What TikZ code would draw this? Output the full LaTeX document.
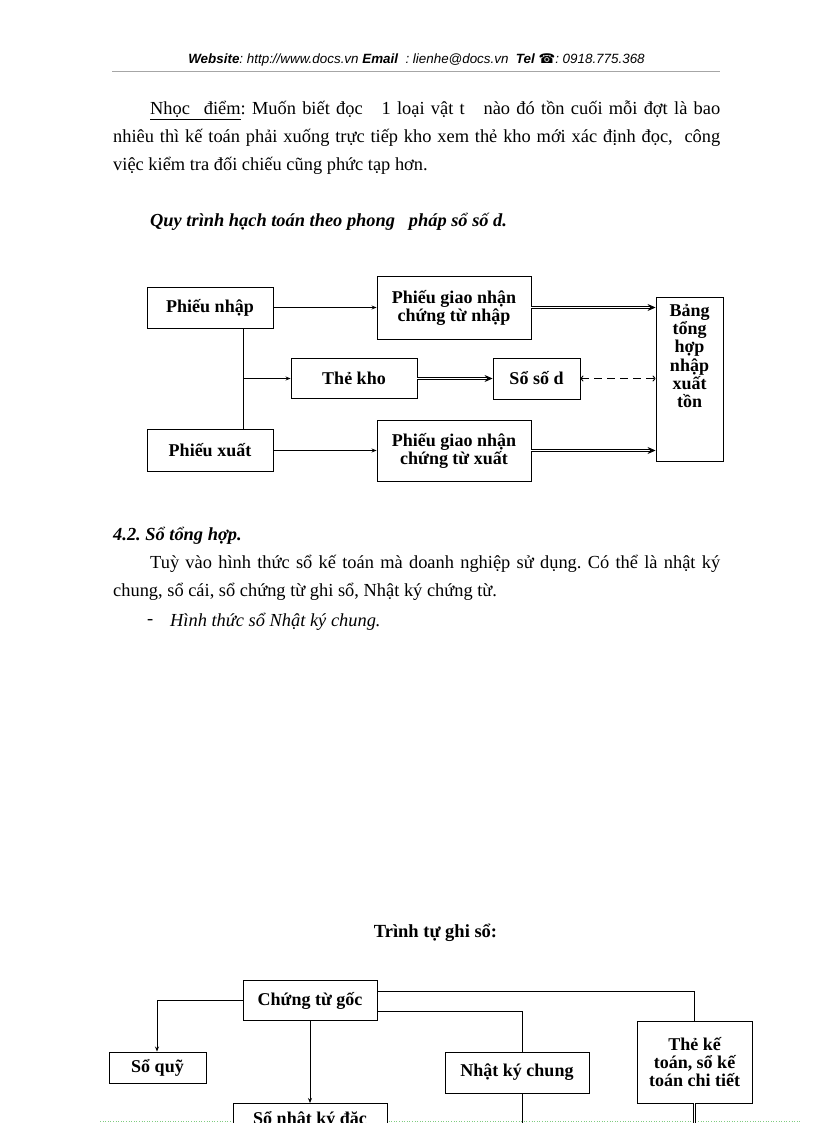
\documentclass[tikz,border=0pt]{standalone}
\usepackage{fontspec}
\setmainfont{Liberation Serif}
\setsansfont{Liberation Sans}
\newfontfamily\symfont{DejaVu Sans}
\usetikzlibrary{arrows.meta}
\begin{document}
\frenchspacing
\begin{tikzpicture}[x=1pt,y=-1pt,
  box/.style={draw, line width=0.9pt, fill=white, inner sep=0pt, align=center,
    font=\fontsize{18}{18}\selectfont\bfseries},
  btxt/.style={inner sep=0pt, align=center, font=\fontsize{18}{18}\selectfont\bfseries},
  body/.style={inner sep=0pt, anchor=base west, font=\fontsize{18.4}{28}\selectfont},
  conn/.style={line width=0.9pt},
  arr/.style={line width=0.9pt, -{Stealth[length=5pt,width=4pt]}},
  dbl/.style={double, double distance=1.2pt, line width=0.8pt, -{Stealth[length=8pt,width=7pt]}},
  dbln/.style={double, double distance=1.2pt, line width=0.8pt},
  dsh/.style={line width=0.9pt, dash pattern=on 8pt off 5pt, {To[length=3pt,width=6pt]}-{To[length=3pt,width=6pt]}}
]
\useasboundingbox (0,0) rectangle (816,1123);
\fill[white] (0,0) rectangle (816,1123);

% page-break marker
\draw[green!60!black!50, dotted, line width=0.6pt] (100,1121) -- (800,1121);

% header
\node[inner sep=0pt, anchor=base] (hdr) at (416.5,64) {\fontsize{13.4}{15}\selectfont\sffamily\itshape
  \textbf{Website}: http://www.docs.vn \textbf{Email}\ \ : lienhe@docs.vn\ \ \textbf{Tel} {\symfont\upshape ☎}: 0918.775.368};
\draw[gray!70, line width=0.8pt] (112,71.5) -- (720,71.5);

% paragraph 1
\node[body] (p1a) at (150,115) {\makebox[570pt][s]{\underline{Nhọc\ \ \ điểm}: Muốn biết đọc\ \ \ 1 loại vật t\ \ \ nào đó tồn cuối mỗi đợt là bao}};
\node[body] (p1b) at (113,143) {\makebox[607pt][s]{nhiêu thì kế toán phải xuống trực tiếp kho xem thẻ kho mới xác định đọc,\ \ công}};
\node[body] (p1c) at (113,171) {việc kiểm tra đối chiếu cũng phức tạp hơn.};

\node[body] (title1) at (150,227) {\bfseries\itshape Quy trình hạch toán theo phong\ \ \ pháp sổ số d.};

% diagram 1
\node[box, minimum width=126pt, minimum height=41pt] (pn) at (210,307.5) {Phiếu nhập};
\node[box, minimum width=126pt, minimum height=42pt] (px) at (210,450.5) {Phiếu xuất};
\node[box, minimum width=154pt, minimum height=63pt] (pgnn) at (454,307.5) {Phiếu giao nhận\\chứng từ nhập};
\node[box, minimum width=154pt, minimum height=61pt] (pgnx) at (454,450.5) {Phiếu giao nhận\\chứng từ xuất};
\node[box, minimum width=126pt, minimum height=40pt] (tk) at (354,378.5) {Thẻ kho};
\node[box, minimum width=87pt, minimum height=41pt] (ssd) at (536.5,378.5) {Sổ số d};
\node[box, minimum width=67pt, minimum height=164pt] (bang) at (689.5,379) {};
\node[btxt, anchor=north, font=\fontsize{18}{18.3}\selectfont\bfseries] (bangt) at (689.5,304) {Bảng\\tổng\\hợp\\nhập\\xuất\\tồn};

\coordinate (j) at (243.5,378.5);
\draw[conn] (pn.south -| j) -- (px.north -| j);
\draw[arr] (j) -- (tk.west);
\draw[arr] (pn.east) -- (pgnn.west |- pn.east);
\draw[arr] (px.east) -- (pgnx.west |- px.east);
\draw[dbl] (pgnn.east) -- (bang.west |- pgnn.east);
\draw[dbl] (pgnx.east) -- (bang.west |- pgnx.east);
\draw[dbl] (tk.east) -- (ssd.west |- tk.east);
\draw[dsh] (ssd.east) -- (bang.west |- ssd.east);

% section 4.2
\node[body] (sec) at (113,540) {\bfseries\itshape 4.2. Sổ tổng hợp.};
\node[body] (p2a) at (150,568) {\makebox[570pt][s]{Tuỳ vào hình thức sổ kế toán mà doanh nghiệp sử dụng. Có thể là nhật ký}};
\node[body] (p2b) at (113,596) {chung, sổ cái, sổ chứng từ ghi sổ, Nhật ký chứng từ.};
\node[body] (bul) at (147,624) {-};
\node[body] (p2c) at (170,626) {\itshape Hình thức sổ Nhật ký chung.};

\node[inner sep=0pt, anchor=base, font=\fontsize{18.5}{20}\selectfont\bfseries] (title2) at (435.5,937) {Trình tự ghi sổ:};

% diagram 2
\node[box, minimum width=134pt, minimum height=40pt] (ctg) at (310,1000.5) {Chứng từ gốc};
\node[box, minimum width=97pt, minimum height=31pt] (sq) at (157.5,1067.5) {Sổ quỹ};
\node[box, minimum width=144pt, minimum height=41pt] (nkc) at (517,1072.5) {Nhật ký chung};
\node[box, minimum width=115pt, minimum height=82pt] (tkt) at (694.5,1062) {Thẻ kế\\toán, sổ kế\\toán chi tiết};
\node[box, anchor=north, minimum width=154pt, minimum height=40pt] (snk) at (310,1103) {};
\node[btxt, anchor=base] (snkt) at (310,1124) {Sổ nhật ký đặc};

\coordinate (nkcend) at (522.5,1130);
\coordinate (tktend) at (694.5,1130);
\draw[arr] (ctg.west) -| ([xshift=-0.5pt]sq.north);
\draw[conn] ([yshift=9.5pt]ctg.east) -| (tkt.north);
\draw[conn] ([yshift=-11pt]ctg.east) -| ([xshift=5.5pt]nkc.north);
\draw[arr] (ctg.south) -- (snk.north);
\draw[conn] ([xshift=5.5pt]nkc.south) -- (nkcend);
\draw[dbln] (tkt.south) -- (tktend);
\end{tikzpicture}
\end{document}
